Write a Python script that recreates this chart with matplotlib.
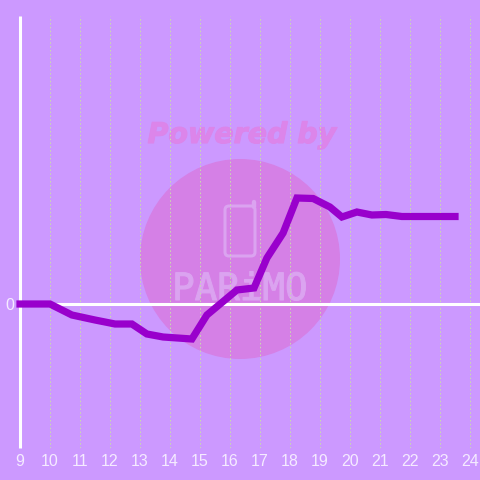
#!/usr/bin/python3
# coding = utf-8

import matplotlib
matplotlib.use('Agg')
import matplotlib.pyplot as plt
import matplotlib.patheffects as pe
from matplotlib.patches import Circle, FancyBboxPatch

BG = '#CC99FF'

hours = [9, 10, 10.73, 11.5, 12.17, 12.73, 13.23, 13.77, 14.73, 15.23, 16.23, 16.8,
         17.23, 17.77, 18.23, 18.77, 19.33, 19.73, 20.23, 20.73, 21.2, 21.73, 23.5]
values = [0, 0, -11, -16, -20, -20, -30, -33, -35, -11, 14, 16,
          46, 71, 106, 105.5, 97, 87, 92, 89, 89.5, 87.5, 87.5]
x_ticks = list(range(9, 25))
y_ticks = [0]

fig = plt.figure(figsize=(4.8, 4.8), dpi=100, facecolor=BG)

# watermark sits behind the chart, in pixel coords
bg = fig.add_axes([0, 0, 1, 1], zorder=1)
bg.set_xlim(0, 480)
bg.set_ylim(480, 0)
bg.axis('off')
bg.add_patch(Circle((240, 259), 100, fc='#D580E6', ec='none'))
bg.text(242, 135, 'Powered by', color='#DC85EA', fontsize=20.5, fontweight='bold',
        fontstyle='italic', family='DejaVu Sans', ha='center', va='center',
        path_effects=[pe.withStroke(linewidth=0.8, foreground='#DC85EA')])
bg.add_patch(FancyBboxPatch((225, 206), 30, 50, boxstyle='round,pad=0,rounding_size=4',
                            fc='none', ec='#DBA3F0', lw=2.2))
bg.plot([253.5, 253.5], [202, 207], color='#DBA3F0', lw=3.2, solid_capstyle='round')
bg.text(240, 290, 'PARiMO', color='#DBA3F0', fontsize=27, family='DejaVu Sans Mono',
        ha='center', va='center',
        path_effects=[pe.withStroke(linewidth=0.8, foreground='#DBA3F0')])

ax = fig.add_axes([20 / 480, 32 / 480, 460 / 480, 432 / 480], zorder=2)
ax.patch.set_visible(False)
ax.set_xlim(9, 24.333)
ax.set_ylim(-144, 288)

for s in ['top', 'right', 'bottom']:
    ax.spines[s].set_visible(False)
ax.spines['left'].set_color('white')
ax.spines['left'].set_linewidth(2.2)
ax.spines['left'].set_capstyle('butt')

ax.set_xticks(x_ticks)
ax.set_yticks(y_ticks)
ax.tick_params(length=0, labelcolor='#F5EBFF', labelsize=11.5, pad=4.5)
for lab in ax.get_xticklabels() + ax.get_yticklabels():
    lab.set_family('Liberation Sans')

ax.grid(axis='x', color='#CBD8B0', linestyle=(0, (1.5, 2.2)), linewidth=0.75)
ax.axhline(0, color='white', linewidth=2.2, zorder=2.5)
ax.plot(hours, values, color='#9900CC', linewidth=5.2, solid_capstyle='projecting',
        solid_joinstyle='miter', clip_on=False, zorder=3)

fig.savefig('out.png', dpi=100, facecolor=BG)
